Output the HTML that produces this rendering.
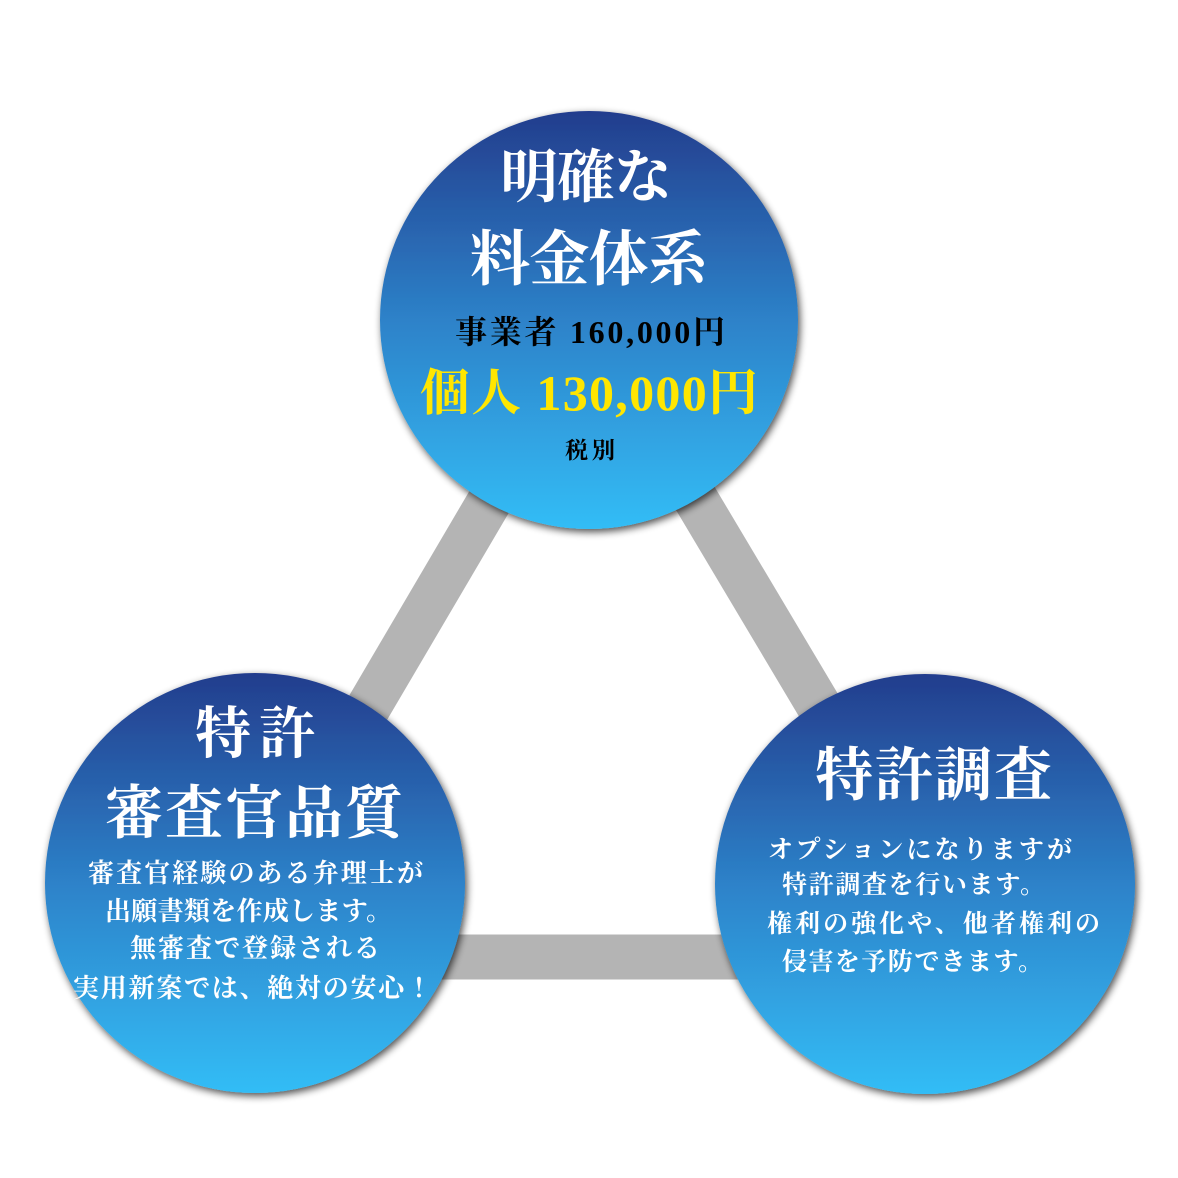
<!DOCTYPE html>
<html><head><meta charset="utf-8"><style>
html,body{margin:0;padding:0;background:#fff;}
svg{display:block}
text{font-family:"Liberation Serif","Noto Serif CJK JP","Noto Serif CJK SC",serif;font-weight:bold}
</style></head><body>
<svg width="1178" height="1178" viewBox="0 0 1178 1178" xmlns="http://www.w3.org/2000/svg">
<defs>
<linearGradient id="g" x1="0" y1="0" x2="0" y2="1">
<stop offset="0" stop-color="#233d8d"/>
<stop offset="0.5" stop-color="#2d82c9"/>
<stop offset="1" stop-color="#33bdf6"/>
</linearGradient>
<filter id="sh" x="-20%" y="-20%" width="140%" height="140%">
<feGaussianBlur in="SourceAlpha" stdDeviation="4"/>
<feOffset dx="2" dy="3"/>
<feComponentTransfer><feFuncA type="linear" slope="0.7"/></feComponentTransfer>
<feMerge><feMergeNode/><feMergeNode in="SourceGraphic"/></feMerge>
</filter>
</defs>
<g stroke="#b4b4b4" stroke-width="45">
<line x1="596" y1="320" x2="264" y2="885"/>
<line x1="589" y1="320" x2="925" y2="884"/>
<line x1="400" y1="957" x2="800" y2="957"/>
</g>
<g filter="url(#sh)">
<circle cx="589" cy="320" r="209" fill="url(#g)"/>
<circle cx="255" cy="883" r="210" fill="url(#g)"/>
<circle cx="925" cy="884" r="210" fill="url(#g)"/>
</g>
<g fill="#fff">
<text x="500" y="197" font-size="58" textLength="172">明確な</text>
<text x="470" y="280" font-size="60" textLength="238">料金体系</text>
</g>
<text x="455" y="343" font-size="32" fill="#000" textLength="270">事業者 160,000円</text>
<text x="420" y="410" font-size="50" fill="#ffe600" textLength="338">個人 130,000円</text>
<text x="565" y="458" font-size="23" fill="#000" textLength="50">税別</text>
<g fill="#fff">
<text x="195" y="753" font-size="56" textLength="120">特許</text>
<text x="105" y="833" font-size="58" textLength="298">審査官品質</text>
<g font-size="26">
<text x="88" y="882" textLength="335">審査官経験のある弁理士が</text>
<text x="105" y="920" textLength="287">出願書類を作成します。</text>
<text x="130" y="957" textLength="250">無審査で登録される</text>
<text x="73" y="997" textLength="359">実用新案では、絶対の安心！</text>
</g>
<text x="815" y="795" font-size="58" textLength="237">特許調査</text>
<g font-size="25">
<text x="768" y="858" textLength="304">オプションになりますが</text>
<text x="782" y="893" textLength="263">特許調査を行います。</text>
<text x="767" y="932" textLength="333">権利の強化や、他者権利の</text>
<text x="782" y="970" textLength="261">侵害を予防できます。</text>
</g>
</g>
</svg>
</body></html>
